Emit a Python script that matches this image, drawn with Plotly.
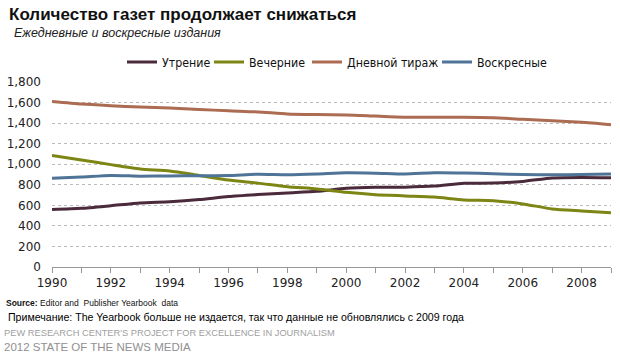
import plotly.graph_objects as go

years = list(range(1990, 2010))
morning = [559, 571, 596, 623, 635, 656, 686, 705, 721, 736, 766, 776, 777, 787, 814, 817, 833, 867, 872, 869]
evening = [1084, 1042, 996, 954, 935, 891, 846, 816, 781, 760, 727, 704, 692, 680, 653, 645, 614, 565, 546, 528]
daily = [1611, 1586, 1570, 1556, 1548, 1533, 1520, 1509, 1489, 1483, 1480, 1468, 1457, 1456, 1457, 1452, 1437, 1422, 1408, 1385]
sunday = [863, 875, 891, 884, 886, 888, 890, 903, 898, 905, 917, 913, 905, 917, 915, 907, 900, 897, 900, 905]

names = ["Утрение", "Вечерние", "Дневной тираж", "Воскресные"]
colors = ["#4b2a3c", "#7d8514", "#ab6c52", "#4f7498"]
series = [morning, evening, daily, sunday]

ytick_vals = list(range(0, 2000, 200))
ytick_text = [f"{v:,}" for v in ytick_vals]
xtick_vals = list(range(1990, 2010, 2))

W, H = 620, 357
L, R, T, B = 52, 9, 82, 90
pw, ph = W - L - R, H - T - B

def px(x):
    return (x - L) / pw

def py(y):
    return (H - B - y) / ph

legend_ids = ["legend", "legend2", "legend3", "legend4"]
legend_x = [122, 209, 307, 437]

fig = go.Figure()
for n, c, s, lid in zip(names, colors, series, legend_ids):
    fig.add_trace(go.Scatter(x=years, y=s, name=n, mode="lines", legend=lid,
                             line=dict(color=c, width=3, shape="spline", smoothing=0.6)))

legend_style = dict(orientation="h", xref="container", yref="container",
                    xanchor="left", yanchor="middle",
                    font=dict(size=12.3, family="DejaVu Sans Condensed, Liberation Sans Narrow, sans-serif",
                              color="#111"),
                    itemwidth=30, bgcolor="rgba(0,0,0,0)")

fig.update_layout(
    width=W, height=H,
    margin=dict(l=L, r=R, t=T, b=B, autoexpand=False),
    paper_bgcolor="white", plot_bgcolor="white",
    font=dict(family="Liberation Sans, Arial, sans-serif", color="#222"),
    showlegend=True,
    xaxis=dict(range=[1990, 2009], tickmode="array", tickvals=xtick_vals,
               ticktext=[str(v) for v in xtick_vals], automargin=False,
               showgrid=False, zeroline=False, showline=True, linecolor="#999", linewidth=1,
               ticks="outside", ticklen=5, tickcolor="#999",
               minor=dict(ticks="outside", ticklen=5, tickcolor="#999", dtick=1, showgrid=False),
               tickfont=dict(size=12, family="DejaVu Sans, Verdana, sans-serif", color="#222")),
    yaxis=dict(range=[0, 1800], tickmode="array", tickvals=ytick_vals, ticktext=ytick_text,
               automargin=False,
               showgrid=True, gridcolor="#bbbbbb", griddash="dot", gridwidth=1,
               zeroline=False, showline=False, ticks="", ticklabelstandoff=10,
               tickfont=dict(size=12, family="DejaVu Sans, Verdana, sans-serif", color="#222")),
)
for lid, lx in zip(legend_ids, legend_x):
    fig.update_layout({lid: dict(legend_style, x=lx / W, y=1 - 62 / H)})

anns = [
    dict(text="<b>Количество газет продолжает снижаться</b>", x=px(7), y=py(15), size=17, color="#111",
         family="Liberation Sans, Arial, sans-serif"),
    dict(text="<i>Ежедневные и воскресные издания</i>", x=px(12), y=py(33), size=12.5, color="#222",
         family="Liberation Sans, Arial, sans-serif"),
    dict(text="<b>Source:</b> Editor and  Publisher Yearbook  data", x=px(4), y=py(303), size=8.5, color="#111",
         family="Liberation Sans Narrow, Liberation Sans, sans-serif"),
    dict(text="Примечание: The Yearbook больше не издается, так что данные не обновлялись с 2009 года", x=px(6), y=py(317),
         size=10.6, color="#000", family="Liberation Sans, Arial, sans-serif"),
    dict(text="PEW RESEARCH CENTER'S PROJECT FOR EXCELLENCE IN JOURNALISM", x=px(2), y=py(333), size=9.3,
         color="#a0a0a0", family="Liberation Sans Narrow, Liberation Sans, sans-serif"),
    dict(text="2012 STATE OF THE NEWS MEDIA", x=px(2), y=py(347), size=11.5, color="#909090",
         family="Liberation Sans Narrow, Liberation Sans, sans-serif"),
]
for a in anns:
    fig.add_annotation(text=a["text"], x=a["x"], y=a["y"], xref="paper", yref="paper",
                       xanchor="left", yanchor="middle", showarrow=False,
                       font=dict(size=a["size"], color=a["color"], family=a["family"]))

fig.write_html("out.html", config={"displayModeBar": False},
               post_script="document.body.style.margin='0';document.body.style.padding='0';")
